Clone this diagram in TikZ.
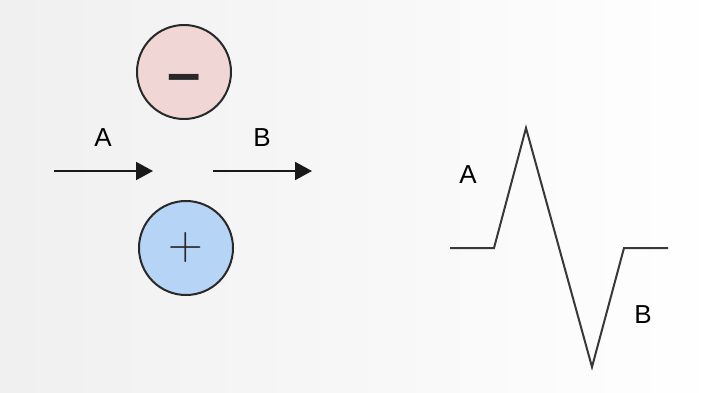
\documentclass[tikz,border=0pt]{standalone}
\usepackage{fontspec}
\setmainfont{Liberation Sans}
\newfontfamily\signfont{Latin Modern Roman}
\usetikzlibrary{arrows.meta,positioning,calc}
\definecolor{chargeneg}{RGB}{240,214,212}
\definecolor{chargepos}{RGB}{182,212,246}
\definecolor{inkgray}{RGB}{40,40,40}

\begin{document}
\begin{tikzpicture}[x=1pt,y=-1pt,
    charge/.style={draw=inkgray,line width=2pt,circle,minimum size=94pt,inner sep=0pt},
    lbl/.style={font=\fontsize{26}{30}\selectfont,text=black,inner sep=0pt},
    flow/.style={-{Triangle[length=17pt,width=18pt]},line width=2pt,draw=black!90},
    wave/.style={line width=2pt,draw=black!78,line join=miter}]
      \shade[left color=black!6,right color=white] (0,0) rectangle (721,392);
      \useasboundingbox (0,0) rectangle (721,392);
      \node[charge,fill=chargeneg] (neg) at (184,72) {\fontsize{60}{60}\selectfont\bfseries\raisebox{-21pt}[0pt][0pt]{\textcolor{inkgray}{–}}};
      \node[charge,fill=chargepos] (pos) at (186,248) {\fontsize{48}{48}\signfont\textcolor{inkgray}{+}};
      \coordinate (a0) at (54,171); \coordinate (a1) at (153,171); \coordinate (b0) at (213,171); \coordinate (b1) at (312,171);
      \draw[flow] (a0)--(a1); \draw[flow] (b0)--(b1);
      \node[lbl] (la) at (103,138) {A}; \node[lbl] (lb) at (262,138) {B};
      % deflection
      \draw[wave] (450,248)--(494,248)--(526,128)--(592,367)--(624,248)--(668,248);
      \node[lbl] (wa) at (468,175) {A}; \node[lbl] (wb) at (643,315) {B};
    \end{tikzpicture}
\end{document}
